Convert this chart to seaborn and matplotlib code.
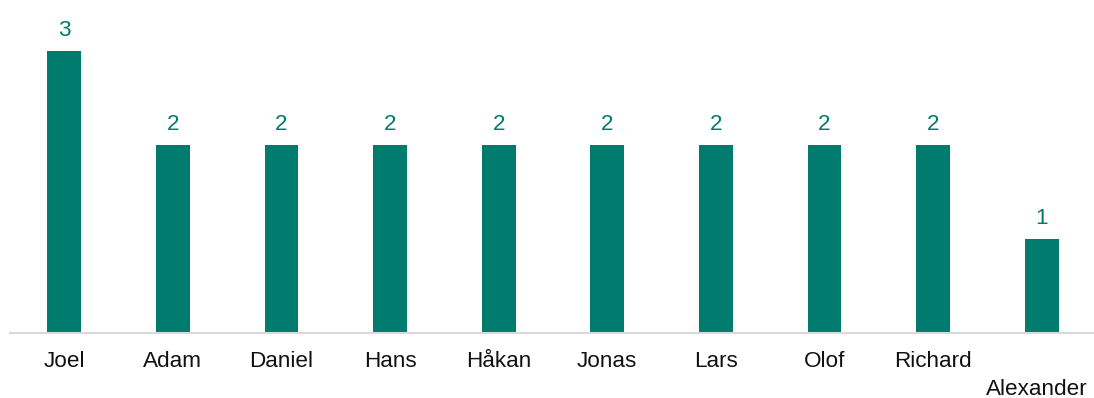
import matplotlib
matplotlib.use("Agg")
import matplotlib.pyplot as plt
from matplotlib.transforms import ScaledTranslation
import seaborn as sns
import pandas as pd

names = ["Joel", "Adam", "Daniel", "Hans", "Håkan", "Jonas", "Lars", "Olof", "Richard", "Alexander"]
counts = [3, 2, 2, 2, 2, 2, 2, 2, 2, 1]

df = pd.DataFrame({"name": names, "count": counts})

sns.set_theme(style="white")
plt.rcParams["font.family"] = ["Liberation Sans", "DejaVu Sans"]

bar_color = "#007B6D"
fig = plt.figure(figsize=(10.94, 3.98), dpi=100)
ax = fig.add_axes([10 / 1094, 65 / 398, 1086 / 1094, 333 / 398])

sns.barplot(data=df, x="name", y="count", color=bar_color, width=0.31,
            saturation=1, ax=ax, edgecolor="none")

ax.set_xlim(-0.5, len(names) - 0.5)
ax.set_ylim(0, 3.54)
ax.set_xlabel("")
ax.set_ylabel("")
ax.set_yticks([])
for s in ["top", "right", "left"]:
    ax.spines[s].set_visible(False)
ax.spines["bottom"].set_color("#D9D9D9")
ax.spines["bottom"].set_linewidth(1.5)
ax.tick_params(axis="x", length=0, pad=13, labelsize=16.2, labelcolor="#111111")

for c in ax.containers:
    ax.bar_label(c, labels=[str(v) for v in counts], padding=7, fontsize=16.2, color=bar_color)

labels = ax.get_xticklabels()
last = labels[-1]
last.set_transform(last.get_transform() + ScaledTranslation(-0.05, -0.28, fig.dpi_scale_trans))

fig.savefig("out.png", dpi=100)
